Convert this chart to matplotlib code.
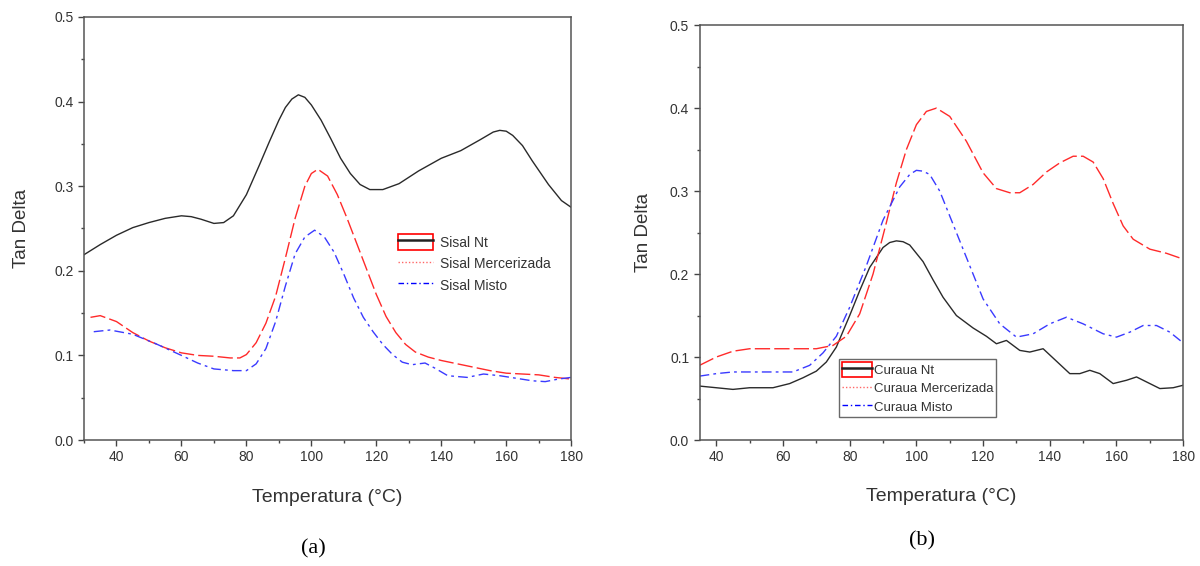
import matplotlib
matplotlib.use('Agg')
import matplotlib.pyplot as plt
from matplotlib.lines import Line2D
from matplotlib.patches import Patch
from matplotlib.legend_handler import HandlerTuple
from matplotlib.ticker import MultipleLocator

plt.rcParams['font.family'] = ['Liberation Sans', 'DejaVu Sans']

# ---- panel (a): sisal ----
sisal_nt_x = [30, 35, 40, 45, 50, 55, 60, 63, 66, 70, 73, 76, 80, 84, 87, 90, 92, 94, 96, 98, 100, 103,
              106, 109, 112, 115, 118, 122, 127, 133, 140, 146, 152, 156, 158, 160, 162, 165, 168, 173,
              177, 180]
sisal_nt_y = [0.219, 0.231, 0.242, 0.251, 0.257, 0.262, 0.265, 0.264, 0.261, 0.256, 0.257, 0.265, 0.29,
              0.325, 0.352, 0.378, 0.393, 0.403, 0.408, 0.405, 0.396, 0.378, 0.356, 0.333, 0.315, 0.302,
              0.296, 0.296, 0.303, 0.318, 0.333, 0.342, 0.355, 0.364, 0.366, 0.365, 0.360, 0.348, 0.330,
              0.302, 0.283, 0.275]

sisal_merc_x = [32, 35, 40, 45, 50, 55, 60, 65, 70, 75, 78, 80, 83, 86, 89, 92, 95, 98, 100, 102, 105,
                108, 111, 114, 117, 120, 123, 126, 129, 132, 136, 140, 145, 150, 155, 160, 165, 170, 175, 180]
sisal_merc_y = [0.145, 0.147, 0.14, 0.127, 0.117, 0.109, 0.103, 0.100, 0.099, 0.097, 0.097, 0.101,
                0.115, 0.138, 0.170, 0.215, 0.262, 0.300, 0.315, 0.320, 0.312, 0.290, 0.262, 0.232,
                0.202, 0.172, 0.146, 0.127, 0.113, 0.104, 0.098, 0.094, 0.090, 0.086, 0.082, 0.079,
                0.078, 0.077, 0.074, 0.072]

sisal_misto_x = [33, 38, 45, 52, 60, 65, 70, 76, 80, 83, 86, 89, 92, 95, 98, 101, 104, 107, 110, 113,
                 116, 119, 122, 125, 128, 131, 135, 138, 142, 148, 153, 158, 163, 168, 172, 176, 180]
sisal_misto_y = [0.128, 0.130, 0.125, 0.114, 0.100, 0.091, 0.084, 0.082, 0.082, 0.090, 0.108, 0.140,
                 0.182, 0.220, 0.240, 0.248, 0.240, 0.222, 0.196, 0.168, 0.145, 0.128, 0.113, 0.101,
                 0.092, 0.089, 0.091, 0.085, 0.076, 0.074, 0.078, 0.076, 0.073, 0.070, 0.069, 0.072, 0.074]

# ---- panel (b): curaua ----
curaua_nt_x = [35, 40, 45, 50, 57, 62, 66, 70, 73, 76, 80, 83, 86, 90, 92, 94, 96, 98, 102, 105, 108,
               112, 117, 121, 124, 127, 131, 134, 138, 142, 146, 149, 152, 155, 159, 163, 166, 169,
               173, 177, 180]
curaua_nt_y = [0.065, 0.063, 0.061, 0.063, 0.063, 0.068, 0.075, 0.083, 0.094, 0.112, 0.150, 0.180,
               0.208, 0.232, 0.238, 0.240, 0.239, 0.235, 0.215, 0.193, 0.172, 0.150, 0.135, 0.125,
               0.116, 0.120, 0.108, 0.106, 0.110, 0.095, 0.080, 0.080, 0.084, 0.080, 0.068, 0.072,
               0.076, 0.070, 0.062, 0.063, 0.066]

curaua_merc_x = [35, 40, 45, 50, 60, 70, 75, 79, 83, 87, 91, 94, 97, 100, 103, 106, 110, 115, 120, 124,
                 128, 131, 135, 139, 143, 147, 150, 153, 156, 159, 162, 165, 170, 175, 180]
curaua_merc_y = [0.090, 0.100, 0.107, 0.110, 0.110, 0.110, 0.114, 0.125, 0.152, 0.200, 0.262, 0.310,
                 0.350, 0.380, 0.396, 0.400, 0.390, 0.360, 0.322, 0.303, 0.298, 0.298, 0.308, 0.323,
                 0.334, 0.342, 0.342, 0.335, 0.315, 0.285, 0.258, 0.242, 0.230, 0.225, 0.218]

curaua_misto_x = [35, 40, 45, 55, 63, 68, 72, 76, 80, 85, 90, 95, 98, 100, 102, 104, 107, 111, 115, 120,
                  125, 130, 135, 140, 145, 150, 156, 160, 164, 168, 172, 176, 180]
curaua_misto_y = [0.077, 0.080, 0.082, 0.082, 0.082, 0.090, 0.105, 0.125, 0.160, 0.210, 0.265, 0.305,
                  0.320, 0.325, 0.324, 0.320, 0.300, 0.260, 0.220, 0.170, 0.140, 0.124, 0.128, 0.140,
                  0.148, 0.140, 0.128, 0.124, 0.130, 0.138, 0.138, 0.130, 0.117]

xticks = [40, 60, 80, 100, 120, 140, 160, 180]
yticks = [0.0, 0.1, 0.2, 0.3, 0.4, 0.5]
txt = '#333333'
c_nt = '#2a2a2a'
c_merc = '#ff2a2a'
c_misto = '#3a3aff'

fig = plt.figure(figsize=(12, 5.66), dpi=100)
ax_a = fig.add_axes([0.070, 0.2226, 0.406, 0.7474])
ax_b = fig.add_axes([0.583, 0.2226, 0.403, 0.733])

red_dash = (0, (11, 3))
blue_dd = (0, (7, 3, 2, 3))


def style_axes(ax, xmin, ylab_x):
    ax.set_xlim(xmin, 180)
    ax.set_ylim(0, 0.5)
    ax.set_xticks(xticks)
    ax.set_yticks(yticks)
    ax.set_yticklabels([f'{v:.1f}' for v in yticks])
    ax.xaxis.set_minor_locator(MultipleLocator(10))
    ax.yaxis.set_minor_locator(MultipleLocator(0.05))
    ax.tick_params(which='both', direction='out', colors='#444444', labelcolor=txt, labelsize=10, width=1)
    ax.tick_params(which='major', length=4)
    ax.tick_params(which='minor', length=2.5)
    for sp in ax.spines.values():
        sp.set_color('#555555')
        sp.set_linewidth(1.1)
    ax.set_xlabel('Temperatura (°C)', fontsize=14, color=txt)
    ax.set_ylabel('Tan Delta', fontsize=13.5, color=txt)
    ax.xaxis.set_label_coords(0.5, -0.116)
    ax.yaxis.set_label_coords(ylab_x, 0.5)


def legend_handles():
    nt = (Patch(facecolor='none', edgecolor='red', linewidth=1.2),
          Line2D([], [], color='#222222', lw=1.8))
    merc = Line2D([], [], color='red', lw=1, linestyle=(0, (1, 1.5)), alpha=0.6)
    misto = Line2D([], [], color='blue', lw=1, linestyle=(0, (4, 2, 1, 2)))
    return [nt, merc, misto]


# panel (a)
ax_a.plot(sisal_nt_x, sisal_nt_y, color=c_nt, lw=1.0)
ax_a.plot(sisal_merc_x, sisal_merc_y, color=c_merc, lw=1.0, linestyle=red_dash)
ax_a.plot(sisal_misto_x, sisal_misto_y, color=c_misto, lw=1.0, linestyle=blue_dd)
style_axes(ax_a, 30, -0.111)
ax_a.legend(legend_handles(), ['Sisal Nt', 'Sisal Mercerizada', 'Sisal Misto'],
            handler_map={tuple: HandlerTuple(ndivide=1, pad=0)},
            loc='upper left', bbox_to_anchor=(0.645, 0.487), frameon=False, fontsize=10,
            handlelength=2.5, handleheight=1.45, labelspacing=0.35, handletextpad=0.5,
            borderpad=0, borderaxespad=0, labelcolor=txt)

# panel (b)
ax_b.plot(curaua_nt_x, curaua_nt_y, color=c_nt, lw=1.0)
ax_b.plot(curaua_merc_x, curaua_merc_y, color=c_merc, lw=1.0, linestyle=red_dash)
ax_b.plot(curaua_misto_x, curaua_misto_y, color=c_misto, lw=1.0, linestyle=blue_dd)
style_axes(ax_b, 35, -0.098)
leg = ax_b.legend(legend_handles(), ['Curaua Nt', 'Curaua Mercerizada', 'Curaua Misto'],
                  handler_map={tuple: HandlerTuple(ndivide=1, pad=0)},
                  loc='upper left', bbox_to_anchor=(0.288, 0.195), frameon=True, fancybox=False,
                  fontsize=9.5, handlelength=2.3, handleheight=1.36, labelspacing=0.3,
                  handletextpad=0.15, borderpad=0.2, borderaxespad=0, labelcolor=txt)
leg.get_frame().set_edgecolor('#444444')
leg.get_frame().set_linewidth(1.0)

fig.text(0.261, 0.03, '(a)', fontsize=16, family='Liberation Serif', ha='center', va='center')
fig.text(0.768, 0.044, '(b)', fontsize=16, family='Liberation Serif', ha='center', va='center')

fig.savefig('out.png', dpi=100)
